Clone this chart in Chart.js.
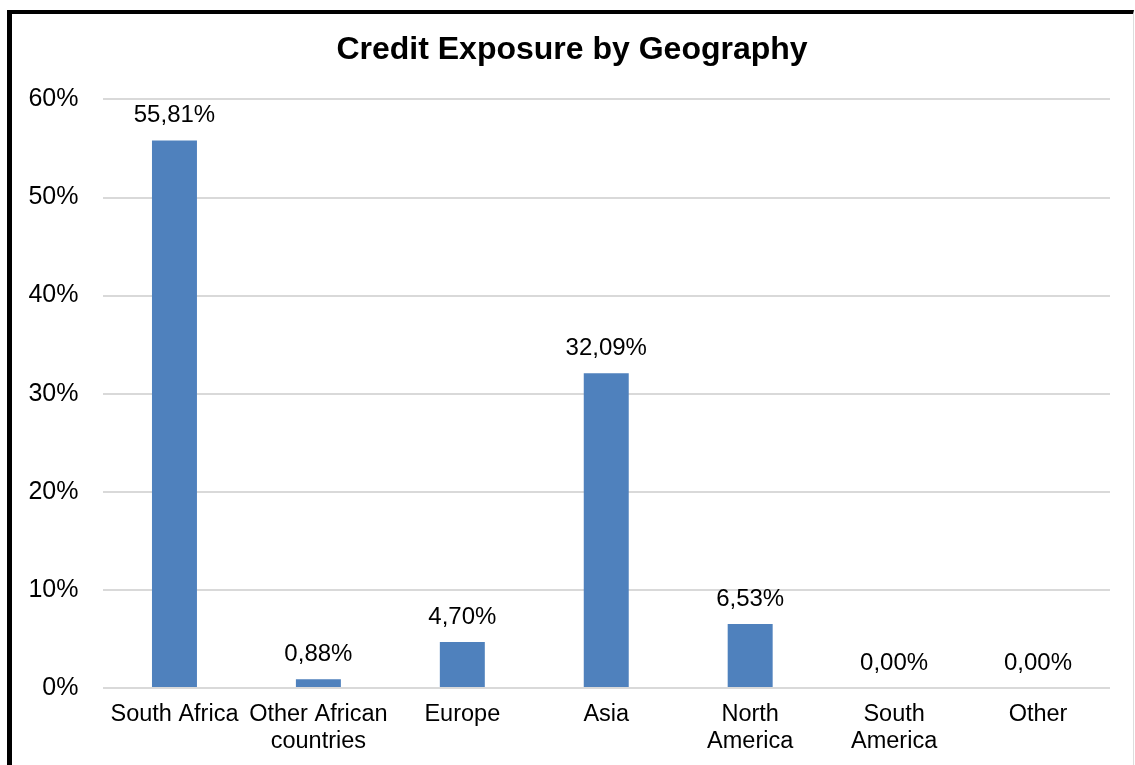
<!DOCTYPE html>
<html>
<head>
<meta charset="utf-8">
<script src="https://cdn.jsdelivr.net/npm/chart.js@4/dist/chart.umd.min.js"></script>
<style>
    html, body { margin: 0; padding: 0; background: #fff; overflow: hidden; }
    #frame {
        position: absolute; left: 7px; top: 10px;
        width: 1121px; height: 800px;
        border-left: 5px solid #000;
        border-top: 4px solid #000;
        border-right: 1px solid #ddd;
    }
    #wrap { position: absolute; left: 0; top: 0; width: 1135px; height: 765px; }
</style>
</head>
<body>
<div id="frame"></div>
<div id="wrap"><canvas id="myChart"></canvas></div>
<script>
const regions = [
    ['South Africa'],
    ['Other African', 'countries'],
    ['Europe'],
    ['Asia'],
    ['North', 'America'],
    ['South', 'America'],
    ['Other']
];
const exposure = [55.81, 0.88, 4.70, 32.09, 6.53, 0.00, 0.00];
const yTicks = [0, 10, 20, 30, 40, 50, 60];

const fontFamily = '"Liberation Sans", Arial, sans-serif';

function pct(v) {
    return v.toFixed(2).replace('.', ',') + '%';
}

// value labels above each bar, excel style
const barLabels = {
    id: 'barLabels',
    afterLayout(chart) {
        // title is centred on the frame, not on the canvas
        if (chart.titleBlock) chart.titleBlock.left = 34;
    },
    afterDatasetsDraw(chart) {
        const c = chart.ctx;
        const meta = chart.getDatasetMeta(0);
        c.save();
        c.font = '24px ' + fontFamily;
        c.fillStyle = '#000';
        c.textAlign = 'center';
        c.textBaseline = 'middle';
        meta.data.forEach((bar, i) => {
            c.fillText(pct(exposure[i]), bar.x, bar.y - 25);
        });
        c.restore();
    }
};

const ctx = document.getElementById('myChart');

new Chart(ctx, {
    type: 'bar',
    data: {
        labels: regions,
        datasets: [{
            label: 'Credit exposure',
            data: exposure,
            backgroundColor: '#4F81BD',
            barPercentage: 0.625,
            categoryPercentage: 0.5
        }]
    },
    options: {
        responsive: true,
        maintainAspectRatio: false,
        animation: false,
        layout: { padding: { left: 0, right: 25, top: 0, bottom: 0 } },
        plugins: {
            legend: { display: false },
            tooltip: { enabled: false },
            title: {
                display: true,
                text: 'Credit Exposure by Geography',
                color: '#000',
                font: { family: fontFamily, size: 32, weight: 'bold', lineHeight: 1.2 },
                padding: { top: 31, bottom: 30 }
            }
        },
        scales: {
            x: {
                grid: { display: false },
                border: { display: false },
                ticks: {
                    color: '#000',
                    font: { family: fontFamily, size: 23.5, lineHeight: 1.15 },
                    padding: 5,
                    maxRotation: 0,
                    autoSkip: false
                },
                afterFit(scale) { scale.height = 77; }
            },
            y: {
                min: 0,
                max: 60,
                afterBuildTicks(scale) {
                    scale.ticks = yTicks.map(v => ({ value: v }));
                },
                grid: { color: '#D9D9D9', lineWidth: 2, drawTicks: false },
                border: { display: false },
                ticks: {
                    color: '#000',
                    font: { family: fontFamily, size: 25 },
                    padding: 24,
                    callback: v => v + '%'
                },
                afterFit(scale) { scale.width = 102.5; }
            }
        }
    },
    plugins: [barLabels]
});
</script>
</body>
</html>
